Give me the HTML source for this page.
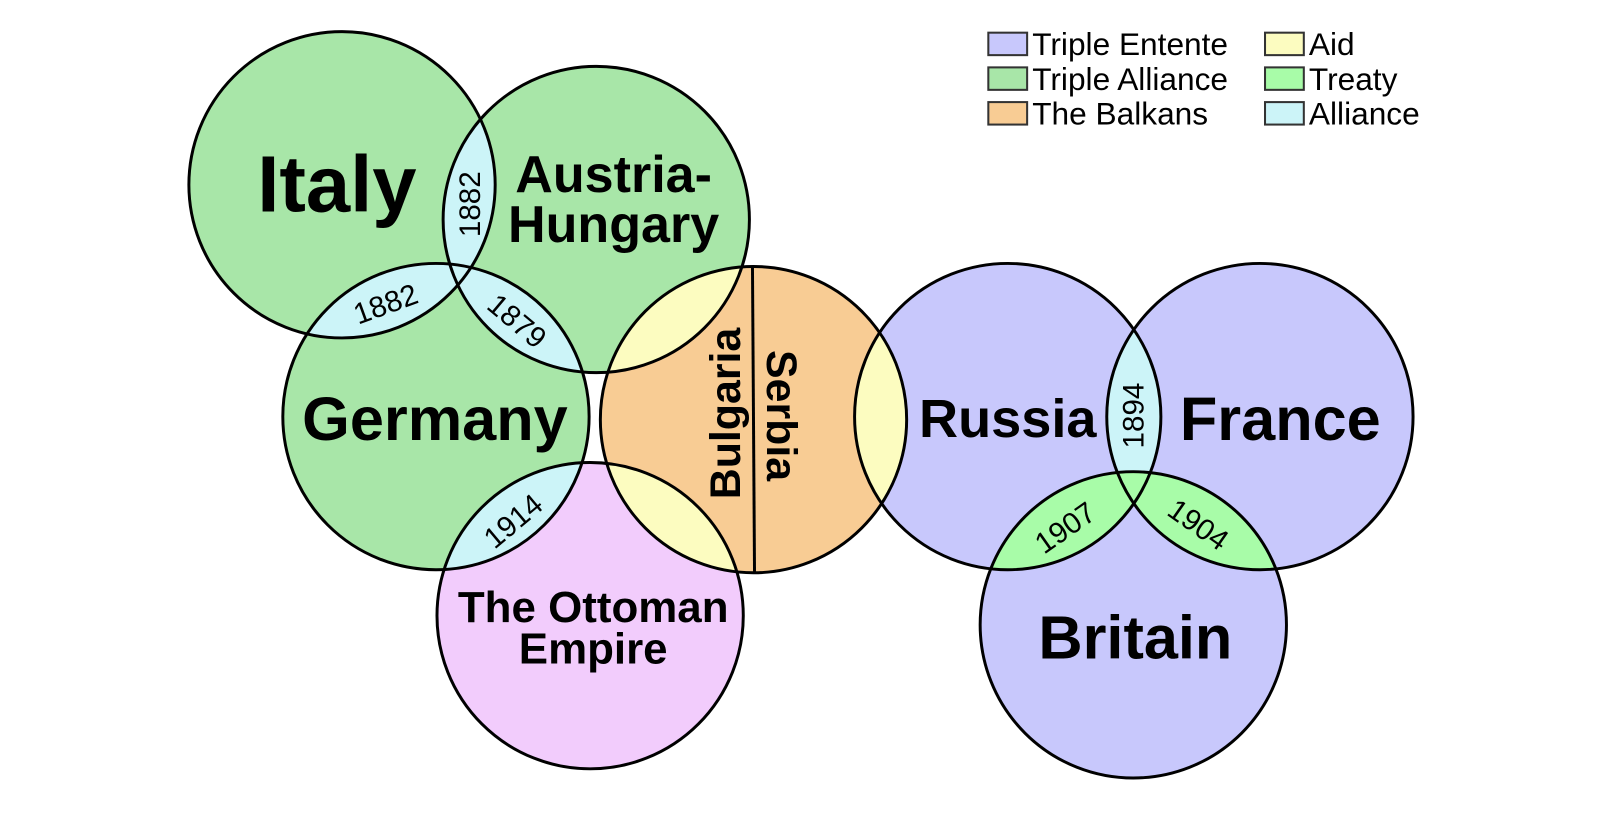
<!DOCTYPE html>
<html><head><meta charset="utf-8"><style>html,body{margin:0;padding:0;background:#fff}svg{display:block}</style></head>
<body>
<svg width="1598" height="836" viewBox="0 0 1598 836" xmlns="http://www.w3.org/2000/svg" font-family="Liberation Sans, sans-serif">
<defs>
<clipPath id="cA"><circle cx="584" cy="215" r="150"/></clipPath>
<clipPath id="cG"><circle cx="427" cy="408" r="150"/></clipPath>
<clipPath id="cO"><circle cx="578" cy="603" r="150"/></clipPath>
<clipPath id="cB"><circle cx="738" cy="411" r="150"/></clipPath>
<clipPath id="cF"><circle cx="1234" cy="408" r="150"/></clipPath>
<clipPath id="cBr"><circle cx="1110" cy="612" r="150"/></clipPath>
</defs>
<g transform="scale(1.021)">
<circle cx="335" cy="181" r="150" fill="#a8e6a8"/>
<circle cx="584" cy="215" r="150" fill="#a8e6a8"/>
<circle cx="427" cy="408" r="150" fill="#a8e6a8"/>
<circle cx="578" cy="603" r="150" fill="#f2ccfc"/>
<circle cx="738" cy="411" r="150" fill="#f8cc94"/>
<circle cx="987" cy="408" r="150" fill="#c8c8fc"/>
<circle cx="1234" cy="408" r="150" fill="#c8c8fc"/>
<circle cx="1110" cy="612" r="150" fill="#c8c8fc"/>
<circle cx="335" cy="181" r="150" fill="#ccf4f8" clip-path="url(#cA)"/>
<circle cx="335" cy="181" r="150" fill="#ccf4f8" clip-path="url(#cG)"/>
<circle cx="584" cy="215" r="150" fill="#ccf4f8" clip-path="url(#cG)"/>
<circle cx="427" cy="408" r="150" fill="#ccf4f8" clip-path="url(#cO)"/>
<circle cx="584" cy="215" r="150" fill="#fcfcc0" clip-path="url(#cB)"/>
<circle cx="578" cy="603" r="150" fill="#fcfcc0" clip-path="url(#cB)"/>
<circle cx="987" cy="408" r="150" fill="#fcfcc0" clip-path="url(#cB)"/>
<circle cx="987" cy="408" r="150" fill="#ccf4f8" clip-path="url(#cF)"/>
<circle cx="987" cy="408" r="150" fill="#a8fca8" clip-path="url(#cBr)"/>
<circle cx="1234" cy="408" r="150" fill="#a8fca8" clip-path="url(#cBr)"/>
<g fill="none" stroke="#000" stroke-width="2.9">
<circle cx="335" cy="181" r="150"/>
<circle cx="584" cy="215" r="150"/>
<circle cx="427" cy="408" r="150"/>
<circle cx="578" cy="603" r="150"/>
<circle cx="738" cy="411" r="150"/>
<circle cx="987" cy="408" r="150"/>
<circle cx="1234" cy="408" r="150"/>
<circle cx="1110" cy="612" r="150"/>
<line x1="737" y1="262" x2="739" y2="561"/>
</g>
<g font-weight="bold" text-anchor="middle" fill="#000">
<text x="330" y="207" font-size="78">Italy</text>
<text x="601" y="188" font-size="51">Austria-</text>
<text x="601" y="237" font-size="51">Hungary</text>
<text x="426" y="431" font-size="60">Germany</text>
<text x="987" y="428" font-size="53">Russia</text>
<text x="1254" y="431" font-size="60">France</text>
<text x="1112" y="645" font-size="60">Britain</text>
<text x="581" y="609" font-size="43">The Ottoman</text>
<text x="581" y="650" font-size="43">Empire</text>
<text transform="translate(725,405) rotate(-90)" font-size="42">Bulgaria</text>
<text transform="translate(751,407) rotate(90)" font-size="42">Serbia</text>
</g>
<g font-size="29" text-anchor="middle" fill="#000">
<text transform="translate(470,200) rotate(-90)">1882</text>
<text transform="translate(381,307) rotate(-20)">1882</text>
<text transform="translate(500,322) rotate(40)">1879</text>
<text transform="translate(509,518) rotate(-40)">1914</text>
<text transform="translate(1120,407) rotate(-90)">1894</text>
<text transform="translate(1049,525) rotate(-35)">1907</text>
<text transform="translate(1168,522) rotate(35)">1904</text>
</g>
<g stroke="#333" stroke-width="2">
<rect x="968" y="32" width="38" height="22" fill="#c8c8fc"/>
<rect x="968" y="66" width="38" height="22" fill="#a8e6a8"/>
<rect x="968" y="100" width="38" height="22" fill="#f8cc94"/>
<rect x="1239" y="32" width="38" height="22" fill="#fcfcc0"/>
<rect x="1239" y="66" width="38" height="22" fill="#a8fca8"/>
<rect x="1239" y="100" width="38" height="22" fill="#ccf4f8"/>
</g>
<g font-size="31" fill="#000">
<text x="1011" y="54">Triple Entente</text>
<text x="1011" y="88">Triple Alliance</text>
<text x="1011" y="122">The Balkans</text>
<text x="1282" y="54">Aid</text>
<text x="1282" y="88">Treaty</text>
<text x="1282" y="122">Alliance</text>
</g>
</g>
</svg>
</body></html>
